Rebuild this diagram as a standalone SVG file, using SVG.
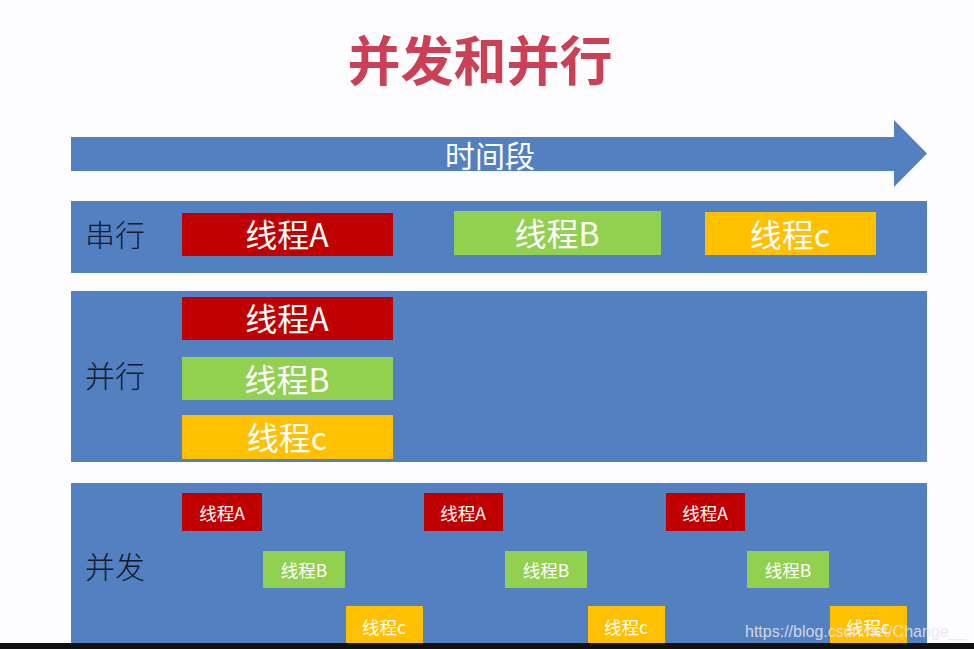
<svg xmlns="http://www.w3.org/2000/svg" width="974" height="649" viewBox="0 0 974 649">
<style>
.band{fill:#5380C0}
.lbl{font-family:"Noto Sans CJK SC","Liberation Sans",sans-serif;font-size:30px;fill:#141a28;font-weight:300}
.t{font-family:"Noto Sans CJK SC","Liberation Sans",sans-serif;fill:#ffffff;text-anchor:middle;dominant-baseline:central}
.big{font-size:32px}
.sm{font-size:17.5px}
.r{fill:#C00000}
.g{fill:#92D050}
.y{fill:#FFC000}
</style>
<rect width="974" height="649" fill="#FDFCFE"/>
<g id="title"><text x="480" y="81" text-anchor="middle" font-family="Noto Sans CJK SC,sans-serif" font-weight="700" font-size="53" fill="#CB4055">并发和并行</text></g>
<g id="timeline">
<polygon points="71,137 894,137 894,120 927,153.5 894,187 894,171 71,171" fill="#5380C0"/>
<text class="t" x="490" y="154" font-size="30">时间段</text>
</g>
<g id="serial">
<rect class="band" x="71" y="201" width="856" height="72"/>
<text class="lbl" x="85" y="246">串行</text>
<g id="serialA"><rect class="r" x="182" y="213" width="211" height="43"/><text class="t big" x="287" y="233">线程A</text></g>
<g id="serialB"><rect class="g" x="454" y="211" width="207" height="44"/><text class="t big" x="557" y="232">线程B</text></g>
<g id="serialC"><rect class="y" x="705" y="212" width="171" height="43"/><text class="t big" x="790" y="233">线程c</text></g>
</g>
<g id="parallel">
<rect class="band" x="71" y="291" width="856" height="171"/>
<text class="lbl" x="85" y="387">并行</text>
<g id="parA"><rect class="r" x="182" y="297" width="211" height="43"/><text class="t big" x="287" y="317">线程A</text></g>
<g id="parB"><rect class="g" x="182" y="357" width="211" height="43"/><text class="t big" x="287" y="378">线程B</text></g>
<g id="parC"><rect class="y" x="182" y="415" width="211" height="44"/><text class="t big" x="287" y="436">线程c</text></g>
</g>
<g id="concurrent">
<rect class="band" x="71" y="483" width="856" height="166"/>
<text class="lbl" x="85" y="578">并发</text>
<g id="conA1"><rect class="r" x="182" y="493" width="80" height="38"/><text class="t sm" x="222" y="512">线程A</text></g>
<g id="conB1"><rect class="g" x="263" y="551" width="82" height="37"/><text class="t sm" x="304" y="569">线程B</text></g>
<g id="conC1"><rect class="y" x="346" y="606" width="77" height="43"/><text class="t sm" x="384" y="626">线程c</text></g>
<g id="conA2"><rect class="r" x="424" y="493" width="79" height="38"/><text class="t sm" x="463" y="512">线程A</text></g>
<g id="conB2"><rect class="g" x="505" y="551" width="82" height="37"/><text class="t sm" x="546" y="569">线程B</text></g>
<g id="conC2"><rect class="y" x="588" y="606" width="77" height="43"/><text class="t sm" x="626" y="626">线程c</text></g>
<g id="conA3"><rect class="r" x="666" y="493" width="79" height="38"/><text class="t sm" x="705" y="512">线程A</text></g>
<g id="conB3"><rect class="g" x="747" y="551" width="82" height="37"/><text class="t sm" x="788" y="569">线程B</text></g>
<g id="conC3"><rect class="y" x="830" y="606" width="77" height="43"/><text class="t sm" x="868" y="626">线程c</text></g>
</g>
<text x="745" y="637" font-family="Liberation Sans,sans-serif" font-size="16" fill="#e6e6ee" fill-opacity="0.85">https://blog.csdn.net/Change__</text>
<rect x="0" y="643" width="974" height="6" fill="#111111"/>
</svg>
